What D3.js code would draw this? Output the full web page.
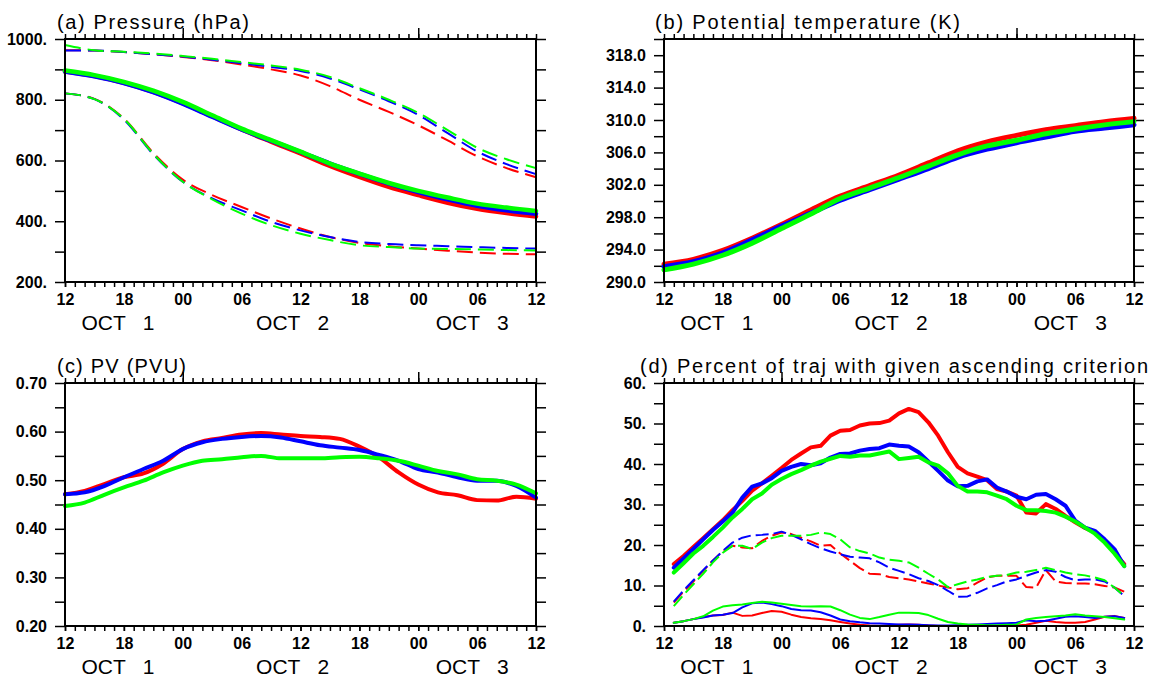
<!DOCTYPE html>
<html>
<head>
<meta charset="utf-8">
<script src="https://cdn.jsdelivr.net/npm/d3@7"></script>
<style>
  body { margin: 0; background: #fff; }
  svg { display: block; font-family: 'Liberation Sans', Arial, Helvetica, sans-serif; }
</style>
</head>
<body>
<div id="chart-container"></div>
<script>
// ---- data ----
const xTickLabels = ['12', '18', '00', '06', '12', '18', '00', '06', '12']
const dayLabels = ['OCT   1', 'OCT   2', 'OCT   3']

// (a) pressure, 3-hourly
const hoursA = [0, 3, 6, 9, 12, 15, 18, 21, 24, 27, 30, 33, 36, 39, 42, 45, 48]
const presSolidRed = [893, 878, 856, 826, 789, 746, 702, 662, 623, 582, 546, 513, 486, 461, 441, 427, 416]
const presSolidBlue = [893, 877, 855, 825, 787, 744, 702, 665, 628, 590, 556, 524, 496, 472, 451, 436, 425]
const presSolidGreen = [896, 881, 859, 830, 793, 749, 705, 667, 629, 590, 557, 526, 500, 478, 458, 445, 434]
const presUpperRed = [963, 962, 957, 950, 941, 930, 916, 900, 880, 845, 800, 760, 716, 666, 614, 575, 545]
const presUpperBlue = [962, 962, 957, 950, 942, 932, 920, 908, 895, 870, 834, 795, 750, 690, 630, 588, 555]
const presUpperGreen = [980, 963, 958, 952, 944, 935, 924, 913, 899, 875, 838, 800, 757, 700, 642, 604, 575]
const presLowerRed = [821, 803, 738, 625, 537, 486, 447, 409, 376, 348, 329, 318, 310, 303, 297, 293, 291]
const presLowerBlue = [821, 802, 735, 620, 530, 475, 436, 398, 370, 348, 332, 325, 321, 318, 315, 312, 310]
const presLowerGreen = [821, 802, 737, 622, 530, 472, 425, 387, 359, 338, 321, 315, 310, 309, 307, 305, 304]

// (b) potential temperature, 3-hourly
const thetaRed = [292.2, 292.8, 293.9, 295.4, 297.1, 298.9, 300.6, 301.9, 303.2, 304.7, 306.2, 307.3, 308.1, 308.8, 309.3, 309.8, 310.2]
const thetaBlue = [291.9, 292.5, 293.6, 295.2, 296.9, 298.5, 300.1, 301.4, 302.7, 304.0, 305.4, 306.4, 307.2, 307.9, 308.6, 309.0, 309.4]
const thetaGreen = [291.5, 292.2, 293.3, 294.8, 296.6, 298.4, 300.3, 301.6, 302.9, 304.3, 305.7, 306.8, 307.5, 308.3, 308.9, 309.4, 309.8]

// (c) PV, 2-hourly
const hoursC = [0, 2, 4, 6, 8, 10, 12, 14, 16, 18, 20, 22, 24, 26, 28, 30, 32, 34, 36, 38, 40, 42, 44, 46, 48]
const pvRed = [0.471, 0.478, 0.492, 0.506, 0.514, 0.534, 0.564, 0.580, 0.587, 0.594, 0.597, 0.594, 0.591, 0.589, 0.585, 0.569, 0.547, 0.516, 0.491, 0.475, 0.469, 0.459, 0.458, 0.466, 0.462]
const pvBlue = [0.471, 0.475, 0.488, 0.506, 0.523, 0.540, 0.564, 0.578, 0.585, 0.589, 0.591, 0.588, 0.580, 0.572, 0.567, 0.562, 0.552, 0.540, 0.523, 0.516, 0.506, 0.499, 0.499, 0.488, 0.464]
const pvGreen = [0.447, 0.454, 0.470, 0.485, 0.499, 0.516, 0.530, 0.540, 0.543, 0.547, 0.550, 0.545, 0.545, 0.545, 0.547, 0.548, 0.545, 0.540, 0.530, 0.519, 0.512, 0.502, 0.499, 0.491, 0.473]

// (d) percent of trajectories, hourly
const hoursD = [1, 2, 3, 4, 5, 6, 7, 8, 9, 10, 11, 12, 13, 14, 15, 16, 17, 18, 19, 20, 21, 22, 23, 24,
  25, 26, 27, 28, 29, 30, 31, 32, 33, 34, 35, 36, 37, 38, 39, 40, 41, 42, 43, 44, 45, 46, 47]
const pctThickRed = [15.3, 17.3, 19.5, 21.7, 23.9, 26.1, 28.6, 30.9, 33.4, 35.2, 37.1, 39.0, 41.0, 42.6, 44.1, 44.5,
  47.0, 48.2, 48.4, 49.5, 50.0, 50.1, 50.7, 52.5, 53.6, 52.8, 50.3, 47.0, 42.9, 39.3, 37.7, 36.9,
  36.0, 33.8, 33.2, 32.2, 28.0, 27.8, 30.1, 28.9, 27.2, 25.6, 24.2, 23.1, 21.2, 18.1, 15.3]
const pctThickBlue = [14.4, 16.7, 19.0, 21.4, 23.7, 25.8, 28.0, 31.7, 34.4, 35.2, 36.5, 38.3, 39.3, 40.0, 39.7, 40.2,
  41.6, 42.5, 42.6, 43.3, 43.7, 43.9, 44.8, 44.5, 44.3, 42.9, 40.6, 38.3, 35.9, 34.5, 34.6, 35.7,
  36.2, 34.2, 33.2, 31.9, 31.3, 32.4, 32.6, 31.3, 29.7, 26.0, 24.3, 23.5, 21.4, 19.0, 14.8]
const pctThickGreen = [13.2, 15.5, 17.9, 19.8, 22.0, 24.3, 26.8, 28.9, 31.3, 32.7, 34.9, 36.3, 37.5, 38.5, 39.6, 40.6,
  41.3, 42.0, 41.8, 42.1, 42.1, 42.6, 43.1, 41.2, 41.5, 41.8, 40.4, 39.6, 37.7, 34.6, 33.2, 33.2,
  33.0, 32.2, 31.3, 29.7, 28.6, 28.6, 28.4, 28.0, 27.0, 25.8, 24.3, 22.8, 20.6, 17.9, 14.8]
const pctDashRed = [5.8, 8.5, 11.0, 13.6, 16.2, 18.5, 19.8, 19.4, 19.2, 21.0, 22.3, 23.1, 22.7, 21.8, 20.9, 19.8,
  20.0, 17.9, 16.1, 14.3, 12.9, 12.8, 12.1, 11.8, 11.5, 11.0, 10.5, 10.0, 9.5, 9.1, 9.3, 10.7,
  12.0, 12.4, 12.4, 12.4, 9.6, 9.5, 13.8, 11.0, 10.6, 10.5, 10.5, 10.3, 9.9, 9.5, 8.5]
const pctDashBlue = [6.0, 8.8, 11.3, 13.8, 16.2, 18.5, 20.6, 21.8, 22.4, 22.5, 22.7, 23.3, 22.5, 21.4, 20.2, 19.2,
  18.4, 17.7, 17.1, 16.9, 16.7, 15.7, 14.4, 13.6, 12.8, 11.8, 11.1, 10.1, 8.7, 7.2, 7.3, 8.2,
  9.3, 10.1, 11.0, 11.5, 12.4, 13.2, 13.8, 13.4, 12.1, 11.3, 11.5, 11.5, 11.0, 9.5, 7.4]
const pctDashGreen = [4.9, 7.7, 10.3, 12.9, 15.7, 18.1, 19.8, 19.8, 19.0, 20.6, 21.7, 22.3, 22.3, 22.3, 22.5, 23.1,
  22.7, 21.4, 19.4, 18.5, 17.9, 16.9, 16.4, 16.1, 15.7, 14.4, 12.9, 11.5, 9.6, 10.3, 11.0, 11.5,
  12.1, 12.4, 12.6, 13.2, 13.4, 13.8, 14.4, 13.8, 13.2, 12.8, 12.5, 12.0, 11.3, 9.5, 7.4]
const pctThinRed = [0.8, 1.2, 1.7, 2.2, 2.6, 2.7, 3.3, 2.5, 2.6, 3.2, 3.7, 3.5, 2.8, 2.2, 1.9, 1.7,
  1.4, 1.0, 0.6, 0.3, 0.1, 0.0, 0.1, 0.3, 0.4, 0.3, 0.1, 0.0, 0.0, 0.0, 0.0, 0.0,
  0.0, 0.0, 0.0, 0.1, 0.3, 0.8, 1.3, 1.0, 0.8, 0.8, 1.0, 1.6, 2.3, 2.5, 2.0]
const pctThinBlue = [0.8, 1.2, 1.7, 2.1, 2.6, 2.8, 3.2, 4.6, 5.6, 5.8, 5.4, 4.9, 4.2, 3.9, 3.8, 3.4,
  2.6, 1.6, 1.2, 0.9, 0.7, 0.6, 0.5, 0.4, 0.4, 0.3, 0.2, 0.1, 0.1, 0.2, 0.3, 0.4,
  0.5, 0.6, 0.7, 0.8, 1.4, 1.2, 1.3, 1.8, 2.3, 2.4, 2.2, 2.0, 2.3, 2.4, 2.0]
const pctThinGreen = [0.8, 1.2, 1.7, 2.4, 3.8, 4.8, 5.1, 5.3, 5.7, 6.0, 5.8, 5.5, 5.2, 4.9, 4.8, 4.9,
  4.8, 3.9, 2.8, 2.0, 1.7, 2.2, 2.8, 3.3, 3.3, 3.2, 2.7, 1.8, 1.0, 0.6, 0.4, 0.3,
  0.2, 0.2, 0.3, 0.4, 1.6, 2.0, 2.2, 2.4, 2.6, 2.9, 2.6, 2.4, 2.2, 1.9, 1.6]

// ---- layout ----
const width = 1150
const height = 677
const RED = '#ff0000'
const BLUE = '#0000ff'
const GREEN = '#00ff00'
const dayLabelHours = [5.4, 23.2, 41.5]

const svg = d3.select('#chart-container')
  .append('svg')
  .attr('width', width)
  .attr('height', height)

function panel (cfg) {
  const w = cfg.right - cfg.left
  const h = cfg.bottom - cfg.top
  const g = svg.append('g')
    .attr('transform', `translate(${cfg.left}, ${cfg.top})`)

  const x = d3.scaleLinear().domain([0, 48]).range([0, w])
  const y = d3.scaleLinear().domain(cfg.yDomain).range([h, 0])

  // y ticks: every minor step, label every major step
  const nMinor = Math.round((cfg.yDomain[1] - cfg.yDomain[0]) / cfg.yMinor)
  const yTicks = d3.range(nMinor + 1).map(i => cfg.yDomain[0] + i * cfg.yMinor)
  const every = Math.round(cfg.yMajor / cfg.yMinor)

  const yLeft = g.append('g')
    .call(d3.axisLeft(y).tickValues(yTicks).tickSize(10).tickPadding(8).tickSizeOuter(0)
      .tickFormat((d, i) => (i % every === 0 && i < nMinor + (cfg.labelTop ? 1 : 0)) ? cfg.yFormat(d) : ''))
  g.append('g')
    .attr('transform', `translate(${w}, 0)`)
    .call(d3.axisRight(y).tickValues(yTicks).tickSize(10).tickSizeOuter(0).tickFormat(''))

  // x ticks
  const hourly = d3.range(0, 49)
  g.append('g')
    .attr('transform', `translate(0, ${h})`)
    .call(d3.axisBottom(x).tickValues(hourly).tickSize(5).tickSizeOuter(0).tickFormat(''))
  const xLab = g.append('g')
    .attr('transform', `translate(0, ${h})`)
    .call(d3.axisBottom(x).tickValues(d3.range(0, 49, 6)).tickSize(5).tickPadding(7).tickSizeOuter(0)
      .tickFormat((d, i) => xTickLabels[i]))
  g.append('g')
    .call(d3.axisTop(x).tickValues(hourly).tickSize(5).tickSizeOuter(0).tickFormat(''))
  g.append('g')
    .call(d3.axisTop(x).tickValues([12, 36]).tickSize(11).tickSizeOuter(0).tickFormat(''))

  g.selectAll('.domain').remove()
  g.selectAll('.tick line').attr('stroke', '#000').attr('stroke-width', 1.5)
  g.selectAll('.tick text').attr('fill', '#000')
  yLeft.selectAll('text').style('font-size', '16px').style('font-weight', 'bold')
  xLab.selectAll('text').style('font-size', '16px').style('font-weight', 'bold')

  // day labels
  g.selectAll('.day')
    .data(dayLabels).enter()
    .append('text')
    .attr('class', 'day')
    .attr('x', (d, i) => x(dayLabelHours[i]))
    .attr('y', h + 48)
    .attr('text-anchor', 'middle')
    .style('font-size', '21px')
    .style('white-space', 'pre')
    .text(d => d)

  // lines
  cfg.series.forEach(s => {
    const pts = s.x.map((hr, i) => [hr, s.y[i]])
    g.append('path')
      .datum(pts)
      .attr('fill', 'none')
      .attr('stroke', s.color)
      .attr('stroke-width', s.width)
      .attr('stroke-dasharray', s.dash || null)
      .attr('stroke-linejoin', 'round')
      .attr('stroke-linecap', s.dash ? 'butt' : 'round')
      .attr('d', d3.line().x(d => x(d[0])).y(d => y(d[1])).curve(s.curve || d3.curveMonotoneX))
  })

  // frame
  g.append('rect')
    .attr('width', w).attr('height', h)
    .attr('fill', 'none').attr('stroke', '#000').attr('stroke-width', 2)

  // title
  svg.append('text')
    .attr('x', cfg.titleX)
    .attr('y', cfg.top - 10)
    .attr('textLength', cfg.titleLen)
    .attr('lengthAdjust', 'spacing')
    .style('font-size', '20px')
    .text(cfg.title)
}

const DASH_A = '16,7'
const DASH_D = '13,5'

panel({
  left: 65, right: 536, top: 39, bottom: 282,
  yDomain: [200, 1000], yMinor: 100, yMajor: 200, labelTop: true,
  yFormat: d => d + '.',
  title: '(a) Pressure (hPa)', titleX: 57, titleLen: 192,
  series: [
    {x: hoursA, y: presUpperRed, color: RED, width: 2, dash: DASH_A},
    {x: hoursA, y: presUpperBlue, color: BLUE, width: 2, dash: DASH_A},
    {x: hoursA, y: presUpperGreen, color: GREEN, width: 2, dash: DASH_A},
    {x: hoursA, y: presLowerRed, color: RED, width: 2, dash: DASH_A},
    {x: hoursA, y: presLowerBlue, color: BLUE, width: 2, dash: DASH_A},
    {x: hoursA, y: presLowerGreen, color: GREEN, width: 2, dash: DASH_A},
    {x: hoursA, y: presSolidRed, color: RED, width: 4.5},
    {x: hoursA, y: presSolidBlue, color: BLUE, width: 4.5},
    {x: hoursA, y: presSolidGreen, color: GREEN, width: 4.5}
  ]
})

panel({
  left: 664, right: 1134, top: 39, bottom: 282,
  yDomain: [290, 320], yMinor: 2, yMajor: 4, labelTop: false,
  yFormat: d => d.toFixed(1),
  title: '(b) Potential temperature (K)', titleX: 655, titleLen: 305,
  series: [
    {x: hoursA, y: thetaRed, color: RED, width: 5},
    {x: hoursA, y: thetaBlue, color: BLUE, width: 5},
    {x: hoursA, y: thetaGreen, color: GREEN, width: 5}
  ]
})

panel({
  left: 65, right: 536, top: 383, bottom: 626,
  yDomain: [0.2, 0.7], yMinor: 0.05, yMajor: 0.1, labelTop: true,
  yFormat: d => d.toFixed(2),
  title: '(c) PV (PVU)', titleX: 57, titleLen: 129,
  series: [
    {x: hoursC, y: pvRed, color: RED, width: 4},
    {x: hoursC, y: pvBlue, color: BLUE, width: 4},
    {x: hoursC, y: pvGreen, color: GREEN, width: 4}
  ]
})

panel({
  left: 664, right: 1134, top: 383, bottom: 626,
  yDomain: [0, 60], yMinor: 5, yMajor: 10, labelTop: true,
  yFormat: d => d + '.',
  title: '(d) Percent of traj with given ascending criterion', titleX: 640, titleLen: 508,
  series: [
    {x: hoursD, y: pctThinRed, color: RED, width: 2, curve: d3.curveLinear},
    {x: hoursD, y: pctThinBlue, color: BLUE, width: 2, curve: d3.curveLinear},
    {x: hoursD, y: pctThinGreen, color: GREEN, width: 2, curve: d3.curveLinear},
    {x: hoursD, y: pctDashRed, color: RED, width: 2, dash: DASH_D, curve: d3.curveLinear},
    {x: hoursD, y: pctDashBlue, color: BLUE, width: 2, dash: DASH_D, curve: d3.curveLinear},
    {x: hoursD, y: pctDashGreen, color: GREEN, width: 2, dash: DASH_D, curve: d3.curveLinear},
    {x: hoursD, y: pctThickRed, color: RED, width: 4, curve: d3.curveLinear},
    {x: hoursD, y: pctThickBlue, color: BLUE, width: 4, curve: d3.curveLinear},
    {x: hoursD, y: pctThickGreen, color: GREEN, width: 4, curve: d3.curveLinear}
  ]
})
</script>
</body>
</html>
